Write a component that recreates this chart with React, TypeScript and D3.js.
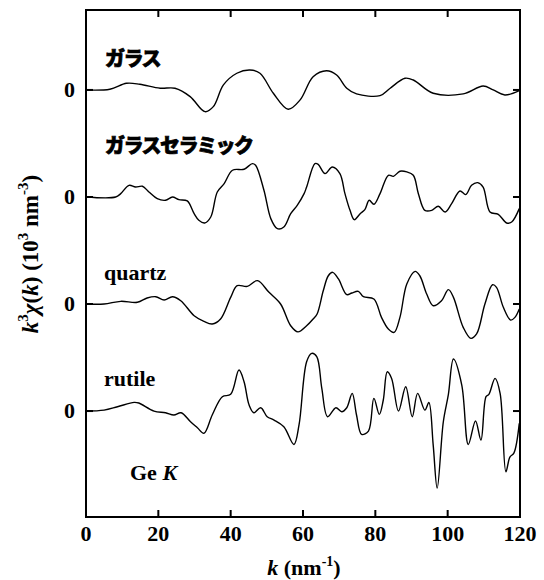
import React from "react";
import * as d3 from "d3";

// k grid (nm^-1) and k^3 chi(k) values for each sample
const kGlass = [0, 6.6, 11.2, 14.9, 20.5, 24.6, 28.8, 32.9, 35.2, 38, 41.7, 45.3, 48.1, 51.8, 55.9, 59.2, 62.8, 66.5, 69.3, 72.1, 74.8, 81.3, 84.1, 88.2, 90.5, 96, 104.3, 109.8, 112.6, 115.8, 119.8];
const glass = [0, 0.07, 0.62, 0.53, 0.16, 0.16, -0.62, -2.03, -1.56, 0.47, 1.56, 1.87, 1.56, -0.31, -1.8, -0.93, 1.24, 1.8, 1.4, 0.16, -0.37, -0.53, 0.16, 1.09, 0.93, -0.31, -0.37, 0.37, 0, -0.47, -0.07];

const kGlassCeramic = [0, 8.2, 9.6, 11.9, 13.7, 15.6, 17.4, 19.7, 22.0, 23.9, 25.7, 28.0, 29.9, 31.2, 32.8, 34.5, 36.3, 38.2, 40.5, 43.7, 46.0, 46.9, 49.2, 51.1, 52.9, 54.7, 56.6, 58.4, 60.3, 61.0, 63.3, 64.2, 66.1, 68.1, 70.2, 71.6, 73.0, 74.2, 75.8, 77.1, 78.3, 79.6, 81.3, 83.6, 85.0, 86.8, 88.7, 90.5, 91.9, 93.7, 95.6, 97.4, 99.3, 101.1, 103.4, 105.0, 106.6, 108.3, 109.8, 111.7, 114.0, 116.3, 117.7, 119.8];
const glassCeramic = [0, 0, 0.31, 1.09, 0.93, 1.0, 0.47, -0.16, -0.31, 0, -0.25, -0.37, -1.56, -2.18, -2.43, -1.87, 0.47, 1.25, 2.5, 2.59, 3.12, 2.96, 0.63, -2.02, -2.96, -2.8, -1.56, -0.78, 0.31, 0.93, 3.12, 3.05, 2.18, 2.8, 2.18, 0.31, -1.25, -2.12, -1.56, -1.18, -0.31, -0.68, 0.31, 2.03, 1.93, 2.4, 2.34, 2.03, 0.31, -1.25, -1.25, -0.87, -1.4, -0.62, 0.56, 0.22, 1.09, 1.34, 0.93, -1.4, -1.62, -2.43, -2.34, -1.09];

const kQuartz = [0, 5.0, 9.6, 14.2, 16.9, 19.3, 21.6, 23.9, 26.2, 29.9, 32.6, 34.9, 37.2, 40.0, 41.8, 44.6, 47.4, 50.6, 53.8, 56.6, 58.6, 61.0, 62.8, 63.9, 65.6, 67.0, 68.2, 69.8, 72.1, 73.5, 75.3, 76.7, 79.6, 81.7, 83.6, 85.2, 86.8, 88.7, 91.0, 92.3, 94.2, 96.0, 98.3, 100.2, 101.6, 104.3, 106.4, 108.0, 110.3, 112.4, 113.5, 115.4, 117.4, 118.6, 119.8];
const quartz = [0, 0, 0.25, 0.16, 0.56, 0.68, 0.37, 0.68, 0.31, -1.09, -1.62, -1.87, -1.4, 0.62, 1.71, 1.65, 2.18, 1.09, 0, -2.03, -2.6, -2.03, -1.4, -0.93, 1.24, 2.64, 2.96, 2.34, 0.87, 1.03, 1.18, 0.68, 0.47, -1.25, -2.34, -2.65, -1.25, 1.87, 3.05, 2.64, 0.93, -0.16, 0.31, 1.34, 0.62, -2.18, -3.21, -2.8, 0, 1.8, 1.56, -0.31, -1.5, -1.25, -0.47];

const kRutile = [0, 5.0, 8.7, 13.3, 14.6, 18.8, 22.0, 24.3, 26.3, 28.9, 30.8, 32.6, 34.9, 37.7, 40.0, 42.3, 43.7, 45.1, 46.4, 48.3, 50.1, 52.0, 54.7, 57.5, 58.9, 61.0, 62.4, 63.8, 65.2, 66.8, 69.1, 70.7, 72.1, 73.6, 74.8, 76.2, 78.1, 79.6, 81.1, 82.2, 83.3, 84.5, 86.4, 88.4, 90.2, 91.7, 93.7, 94.8, 96.0, 97.1, 98.8, 100.2, 101.6, 103.9, 105.7, 107.7, 109.2, 110.6, 111.4, 113.1, 114.5, 116.1, 117.2, 118.3, 119.8];
const rutile = [0, 0.09, 0.4, 0.81, 0.75, 0, -0.16, -0.37, -0.16, -1.0, -1.56, -2.08, -0.37, 1.34, 1.56, 3.83, 2.74, 0.56, -0.16, 0.31, -0.53, -0.84, -1.46, -3.12, -1.3, 4.6, 5.39, 5.08, 2.12, -0.53, 0.31, -0.06, 0.31, 1.65, -0.37, -2.18, -1.87, 1.18, -0.31, 1.03, 3.67, 3.05, 0, 2.27, -0.53, 1.65, 0.09, 0.8, -3.18, -7.2, -1.0, 1.56, 4.86, 2.43, -3.12, -0.93, -2.71, 1.34, 1.56, 3.05, 1.65, -5.67, -4.3, -3.93, -1.15];

// vertical offsets that stack the spectra
const offsets = [30, 20, 10, 0];
const xTicks = [0, 20, 40, 60, 80, 100, 120];

const W = 544;
const H = 580;
const left = 86, right = 520, top = 10, bottom = 517;

const x = d3.scaleLinear().domain([0, 120]).range([left, right]);
const y = d3.scaleLinear().domain([-9.9, 37.47]).range([bottom, top]);

const series = [
  { k: kGlass, v: glass, off: offsets[0] },
  { k: kGlassCeramic, v: glassCeramic, off: offsets[1] },
  { k: kQuartz, v: quartz, off: offsets[2] },
  { k: kRutile, v: rutile, off: offsets[3] },
];

const serifStyle = {
  fontFamily: '"Liberation Serif", "DejaVu Serif", serif',
  fontWeight: 700,
} as const;
const jpStyle = {
  fontFamily: '"Noto Sans CJK JP", "Noto Sans CJK SC", sans-serif',
  fontWeight: 900,
} as const;

export default function App() {
  const line = d3
    .line<[number, number]>()
    .x((d) => x(d[0]))
    .y((d) => y(d[1]))
    .curve(d3.curveCatmullRom.alpha(0.5));
  const tickLen = 7;
  return (
    <svg
      width={W}
      height={H}
      style={{ position: "absolute", left: 0, top: 0, background: "#fff" }}
    >
      {series.map((s, i) => (
        <path
          key={i}
          d={line(s.k.map((k, j) => [k, s.v[j] + s.off]) as [number, number][]) || ""}
          fill="none"
          stroke="#000"
          strokeWidth={1.4}
          strokeLinejoin="round"
        />
      ))}

      {/* frame */}
      <rect x={left} y={top} width={right - left} height={bottom - top} fill="none" stroke="#000" strokeWidth={2} />

      {/* x ticks, bottom and top */}
      {xTicks.map((t) => (
        <g key={t}>
          <line x1={x(t)} x2={x(t)} y1={bottom} y2={bottom - tickLen} stroke="#000" strokeWidth={2} />
          <line x1={x(t)} x2={x(t)} y1={top} y2={top + tickLen} stroke="#000" strokeWidth={2} />
          <text x={x(t)} y={541} fontSize={22} textAnchor="middle" style={serifStyle}>
            {t}
          </text>
        </g>
      ))}

      {/* zero-line ticks, left and right */}
      {offsets.map((o) => (
        <g key={o}>
          <line x1={left} x2={left + tickLen} y1={y(o)} y2={y(o)} stroke="#000" strokeWidth={2} />
          <line x1={right} x2={right - tickLen} y1={y(o)} y2={y(o)} stroke="#000" strokeWidth={2} />
          <text x={75} y={y(o) + 7} fontSize={22} textAnchor="end" style={serifStyle}>
            0
          </text>
        </g>
      ))}

      {/* sample labels */}
      <text x={105} y={66} fontSize={20} letterSpacing={-1.5} stroke="#000" strokeWidth={0.7} style={jpStyle}>
        ガラス
      </text>
      <text x={105} y={153} fontSize={20} letterSpacing={-1.5} stroke="#000" strokeWidth={0.7} style={jpStyle}>
        ガラスセラミック
      </text>
      <text x={104} y={280} fontSize={22} style={serifStyle}>
        quartz
      </text>
      <text x={104} y={386} fontSize={22} style={serifStyle}>
        rutile
      </text>
      <text x={130} y={480} fontSize={22} style={serifStyle}>
        Ge <tspan fontStyle="italic">K</tspan>
      </text>

      {/* axis titles */}
      <text x={304} y={575} fontSize={22} textAnchor="middle" style={serifStyle}>
        <tspan fontStyle="italic">k</tspan> (nm
        <tspan fontSize={14} dy={-9}>-1</tspan>
        <tspan dy={9}>)</tspan>
      </text>
      <text transform="translate(38,254) rotate(-90)" fontSize={23} textAnchor="middle" style={serifStyle}>
        <tspan fontStyle="italic">k</tspan>
        <tspan fontSize={15} dy={-10}>3</tspan>
        <tspan dy={10} fontStyle="italic">χ</tspan>
        <tspan>(</tspan>
        <tspan fontStyle="italic">k</tspan>
        <tspan>) (10</tspan>
        <tspan fontSize={15} dy={-10}>3</tspan>
        <tspan dy={10}> nm</tspan>
        <tspan fontSize={15} dy={-10}>-3</tspan>
        <tspan dy={10}>)</tspan>
      </text>
    </svg>
  );
}
